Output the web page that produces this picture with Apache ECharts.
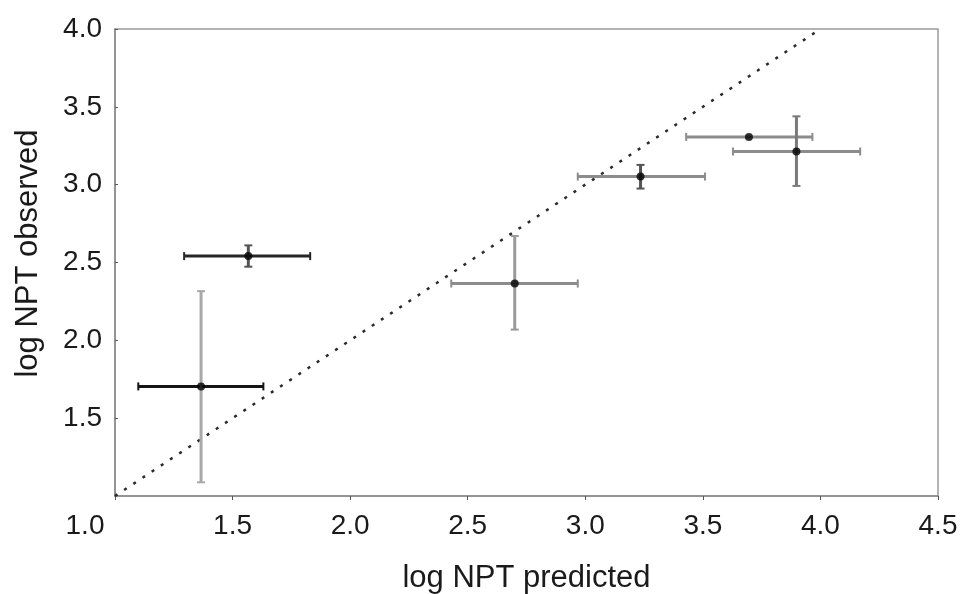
<!DOCTYPE html>
<html>
<head>
<meta charset="utf-8">
<script src="https://cdn.jsdelivr.net/npm/echarts@6/dist/echarts.min.js"></script>
<style>html,body{margin:0;padding:0;background:#fff}#c{width:961px;height:594px}</style>
</head>
<body>
<div id="c"></div>
<script>
// data
const predicted = [1.366, 1.567, 2.700, 3.235, 3.696, 3.898];
const observed  = [1.704, 2.541, 2.365, 3.052, 3.307, 3.213];
const predLow   = [1.099, 1.294, 2.430, 2.968, 3.429, 3.628];
const predHigh  = [1.631, 1.830, 2.968, 3.509, 3.966, 4.169];
const obsLow    = [1.088, 2.473, 2.069, 2.975, 3.307, 2.992];
const obsHigh   = [2.316, 2.610, 2.670, 3.127, 3.307, 3.439];
const identityLine = [[1.0, 1.0], [4.0, 4.0]];
const xTicks = [1.0, 1.5, 2.0, 2.5, 3.0, 3.5, 4.0, 4.5];
const yTicks = [1.0, 1.5, 2.0, 2.5, 3.0, 3.5, 4.0];

// styles (not data)
const hBarColor = ['#151515', '#262626', '#8c8c8c', '#8c8c8c', '#8c8c8c', '#8c8c8c'];
const vBarColor = ['#a8a8a8', '#555555', '#9a9a9a', '#555555', '#8c8c8c', '#7a7a7a'];

const errData = predicted.map((x, i) => [x, observed[i], predLow[i], predHigh[i], obsLow[i], obsHigh[i], i]);

function renderErr(params, api) {
  const x = api.value(0), y = api.value(1);
  const xl = api.value(2), xh = api.value(3), yl = api.value(4), yh = api.value(5);
  const i = api.value(6);
  const c = api.coord([x, y]);
  const pL = api.coord([xl, y]), pR = api.coord([xh, y]);
  const pB = api.coord([x, yl]), pT = api.coord([x, yh]);
  const children = [];
  const hs = { stroke: hBarColor[i], lineWidth: 3 };
  const vs = { stroke: vBarColor[i], lineWidth: 3 };
  children.push({ type: 'line', shape: { x1: pL[0], y1: c[1], x2: pR[0], y2: c[1] }, style: hs });
  children.push({ type: 'line', shape: { x1: pL[0], y1: c[1] - 4, x2: pL[0], y2: c[1] + 4 }, style: { stroke: hBarColor[i], lineWidth: 2 } });
  children.push({ type: 'line', shape: { x1: pR[0], y1: c[1] - 4, x2: pR[0], y2: c[1] + 4 }, style: { stroke: hBarColor[i], lineWidth: 2 } });
  if (yh - yl > 1e-6) {
    children.push({ type: 'line', shape: { x1: c[0], y1: pB[1], x2: c[0], y2: pT[1] }, style: vs });
    children.push({ type: 'line', shape: { x1: c[0] - 4, y1: pT[1], x2: c[0] + 4, y2: pT[1] }, style: { stroke: vBarColor[i], lineWidth: 2 } });
    children.push({ type: 'line', shape: { x1: c[0] - 4, y1: pB[1], x2: c[0] + 4, y2: pB[1] }, style: { stroke: vBarColor[i], lineWidth: 2 } });
  }
  return { type: 'group', children: children };
}

const font = 'Liberation Sans, Arial, sans-serif';
const tickSize = 28, nameSize = 31, txt = '#1a1a1a';
const chart = echarts.init(document.getElementById('c'));
chart.setOption({
  animation: false,
  backgroundColor: '#fff',
  grid: { left: 115, right: 23, top: 29, bottom: 98, containLabel: false, outerBoundsMode: 'none',
    show: true, borderColor: '#9a9a9a', borderWidth: 1.5 },
  xAxis: {
    type: 'value', min: xTicks[0], max: xTicks[xTicks.length - 1], interval: 0.5,
    name: 'log NPT predicted', nameLocation: 'middle', nameGap: 67,
    nameTextStyle: { fontFamily: font, fontSize: nameSize, color: txt },
    axisLine: { show: true, lineStyle: { color: '#8a8a8a', width: 1.5 } },
    axisTick: { show: true, length: 4, lineStyle: { color: '#555' } },
    splitLine: { show: false },
    axisLabel: {
      margin: 16, fontFamily: font, fontSize: tickSize, color: txt,
      formatter: v => v === 1 ? '{s|' + v.toFixed(1) + '}' : v.toFixed(1),
      rich: { s: { fontFamily: font, fontSize: tickSize, color: txt, padding: [0, 60, 0, 0] } }
    }
  },
  yAxis: {
    type: 'value', min: yTicks[0], max: yTicks[yTicks.length - 1], interval: 0.5,
    name: 'log NPT observed', nameLocation: 'middle', nameGap: 71,
    nameTextStyle: { fontFamily: font, fontSize: nameSize, color: txt, padding: [0, 0, 0, 18] },
    axisLine: { show: true, lineStyle: { color: '#8a8a8a', width: 1.5 } },
    axisTick: { show: true, length: 3, inside: true, lineStyle: { color: '#555' } },
    splitLine: { show: false },
    axisLabel: { margin: 13, fontFamily: font, fontSize: tickSize, color: txt, showMinLabel: false,
      formatter: v => v.toFixed(1) }
  },
  series: [
    {
      type: 'line', data: identityLine, symbol: 'none', silent: true,
      lineStyle: { color: '#2a2a2a', width: 2.5, type: [3, 8] }, z: 1
    },
    {
      type: 'custom', renderItem: renderErr, data: errData, z: 2,
      encode: { x: [0, 2, 3], y: [1, 4, 5] }
    },
    {
      type: 'scatter', data: predicted.map((x, i) => [x, observed[i]]),
      symbol: 'circle', symbolSize: 8, itemStyle: { color: '#000' }, z: 3
    }
  ]
});
</script>
</body>
</html>
